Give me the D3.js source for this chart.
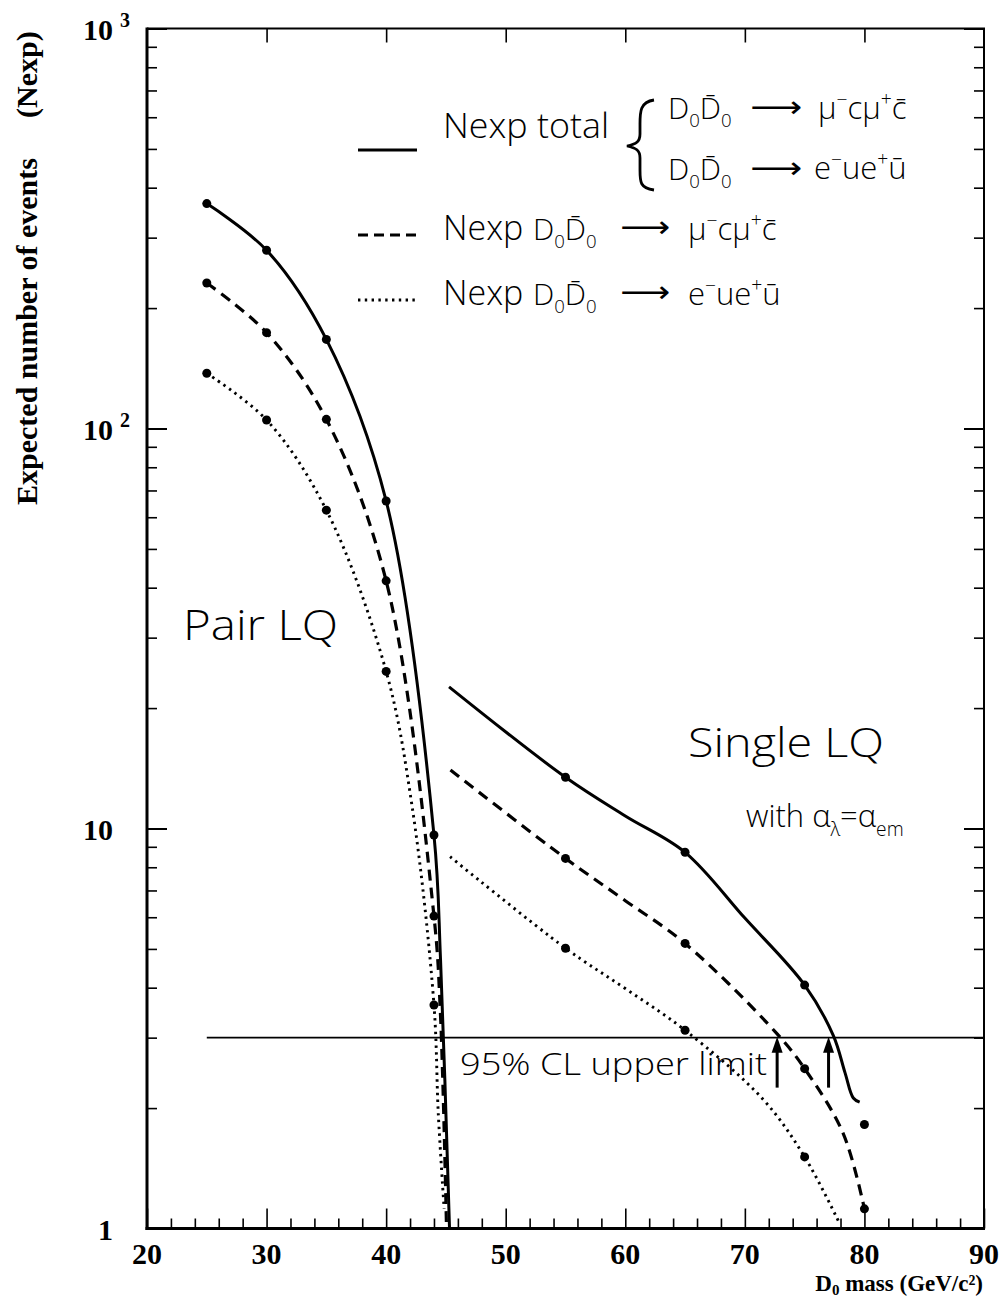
<!DOCTYPE html>
<html>
<head>
<meta charset="utf-8">
<script src="https://cdn.jsdelivr.net/npm/d3@7"></script>
<style>
  html, body { margin: 0; padding: 0; background: #fff; }
  svg { display: block; }
</style>
</head>
<body>
<svg id="chart" width="1001" height="1297"></svg>
<script>
// ---- Expected number of events vs D0 leptoquark mass (GeV/c^2) ----

// Pair-production region: computed mass points with markers
const pairMass   = [25, 30, 35, 40, 44];
const pairTotal  = [365, 279, 167, 65.9, 9.63];
const pairMu     = [231, 173.6, 105.4, 41.6, 6.04];
const pairE      = [137.4, 105, 62.5, 24.7, 3.62];
// extra knots of the drawn pair curves (steep fall near the kinematic edge)
const pairTotalKnots = [[44.55, 4.69], [45.3, 1]];
const pairMuKnots    = [[44.53, 3.5], [45.05, 1]];
const pairEKnots     = [[42.2, 11.2], [44.36, 1.94], [44.85, 1.12]];

// Single-production region
const singleMass  = [55, 65, 75];
const singleTotal = [13.43, 8.72, 4.06];
const singleMu    = [8.42, 5.16, 2.51];
const singleE     = [5.02, 3.13, 1.51];
const singleTotalKnots = [[45.26, 22.6], [60, 10.75], [70, 5.97], [77.41, 3.03],
                          [78.38, 2.45], [79.07, 2.12], [79.6, 2.07]];
const singleMuKnots    = [[45.38, 14.0], [60, 6.6], [72.68, 3.07], [78.22, 1.73]];
const singleEKnots     = [[45.35, 8.5], [60, 3.98], [71.54, 2.1], [77.92, 1.03]];
// additional computed points at 80 GeV
const extraTotal80 = [[80, 1.82]];
const extraMu80    = [[80, 1.12]];

// 95% CL upper limit on the number of events and the resulting mass limits
const clLimit = 3.0;
const clStartMass = 25;
const limitMasses = [72.7, 77.0];

// Axis ticks
const xMajor = [20, 30, 40, 50, 60, 70, 80, 90];
const xMinor = d3.range(20, 91, 2);
const yLogTicks = [1, 2, 3, 4, 5, 6, 7, 8, 9, 10, 20, 30, 40, 50, 60, 70, 80, 90, 100,
                   200, 300, 400, 500, 600, 700, 800, 900, 1000];
const yLabels = [{v: 1, base: "1", exp: ""}, {v: 10, base: "10", exp: ""},
                 {v: 100, base: "10", exp: "2"}, {v: 1000, base: "10", exp: "3"}];

// ---------------------------------------------------------------------
const SANS = "'Open Sans', 'DejaVu Sans', sans-serif";
const SERIF = "'Liberation Serif', 'DejaVu Serif', serif";

const svg = d3.select("#chart");
const frame = {left: 147, right: 984, top: 28.5, bottom: 1228.5};

const x = d3.scaleLinear().domain([20, 90]).range([frame.left, frame.right]);
const y = d3.scaleLog().domain([1, 1000]).range([frame.bottom, frame.top]);

const isDecade = v => Math.abs(Math.log10(v) - Math.round(Math.log10(v))) < 1e-9;

// ---- frame ----
const fr = svg.append("g").attr("stroke", "#000").attr("fill", "none");
fr.append("line").attr("x1", frame.left).attr("x2", frame.left)
  .attr("y1", frame.top - 1).attr("y2", frame.bottom + 1.5).attr("stroke-width", 3);
fr.append("line").attr("x1", frame.left - 1.5).attr("x2", frame.right + 1)
  .attr("y1", frame.bottom).attr("y2", frame.bottom).attr("stroke-width", 3);
fr.append("line").attr("x1", frame.left).attr("x2", frame.right + 1)
  .attr("y1", frame.top).attr("y2", frame.top).attr("stroke-width", 2);
fr.append("line").attr("x1", frame.right).attr("x2", frame.right)
  .attr("y1", frame.top).attr("y2", frame.bottom).attr("stroke-width", 2);

// ---- axes ticks (drawn with d3 axes, then sized major/minor) ----
function styleAxis(g) {
  g.select(".domain").remove();
  g.selectAll("text").remove();
  g.selectAll("line").attr("stroke", "#000").attr("stroke-width", 1.6);
}
// left (inward ticks)
svg.append("g").attr("transform", `translate(${frame.left},0)`)
  .call(d3.axisRight(y).tickValues(yLogTicks).tickSize(10))
  .call(styleAxis)
  .selectAll(".tick line").attr("x2", d => isDecade(d) ? 20 : 10)
  .attr("stroke-width", d => isDecade(d) ? 2 : 1.6);
// right (inward ticks)
svg.append("g").attr("transform", `translate(${frame.right},0)`)
  .call(d3.axisLeft(y).tickValues(yLogTicks).tickSize(10))
  .call(styleAxis)
  .selectAll(".tick line").attr("x2", d => isDecade(d) ? -20 : -10)
  .attr("stroke-width", d => isDecade(d) ? 2 : 1.6);
// bottom (inward ticks)
svg.append("g").attr("transform", `translate(0,${frame.bottom})`)
  .call(d3.axisTop(x).tickValues(xMinor).tickSize(10))
  .call(styleAxis)
  .selectAll(".tick line").attr("y2", d => d % 10 === 0 ? -20 : -10);
// top (major ticks only)
svg.append("g").attr("transform", `translate(0,${frame.top})`)
  .call(d3.axisBottom(x).tickValues(xMajor.slice(1, -1)).tickSize(14))
  .call(styleAxis);

// ---- tick labels ----
svg.append("g").selectAll("text").data(xMajor).join("text")
  .attr("x", d => x(d)).attr("y", frame.bottom + 35.5)
  .attr("text-anchor", "middle")
  .attr("font-family", SERIF).attr("font-weight", "bold").attr("font-size", 30)
  .text(d => d);

const yl = svg.append("g").selectAll("text").data(yLabels).join("text")
  .attr("font-family", SERIF).attr("font-weight", "bold").attr("font-size", 30)
  .attr("x", 113).attr("text-anchor", "end")
  .attr("y", d => y(d.v) + 11);
yl.filter(d => !d.exp).text(d => d.base);
svg.append("g").selectAll("text").data(yLabels.filter(d => d.exp)).join("text")
  .attr("font-family", SERIF).attr("font-weight", "bold").attr("font-size", 30)
  .attr("x", 83).attr("y", d => y(d.v) + 11)
  .call(t => {
    t.append("tspan").text(d => d.base);
    t.append("tspan").attr("dx", 7).attr("dy", -13).attr("font-size", 20).text(d => d.exp);
  });

// ---- axis titles ----
svg.append("text")
  .attr("transform", "translate(36.5,505) rotate(-90)")
  .attr("font-family", SERIF).attr("font-weight", "bold").attr("font-size", 30)
  .text("Expected number of events");
svg.append("text")
  .attr("transform", "translate(36.5,118) rotate(-90)")
  .attr("font-family", SERIF).attr("font-weight", "bold").attr("font-size", 30)
  .text("(Nexp)");

const xt = svg.append("text")
  .attr("x", 983).attr("y", 1291).attr("text-anchor", "end")
  .attr("font-family", SERIF).attr("font-weight", "bold").attr("font-size", 23);
xt.append("tspan").text("D");
xt.append("tspan").attr("dy", 4).attr("font-size", 15).text("0");
xt.append("tspan").attr("dy", -4).text(" mass (GeV/c\u00b2)");

// ---- curves ----
const merge = (mass, vals, knots) =>
  mass.map((m, i) => [m, vals[i]]).concat(knots).sort((a, b) => a[0] - b[0]);

const line = d3.line().x(d => x(d[0])).y(d => y(d[1])).curve(d3.curveCatmullRom.alpha(0.5));

const styles = {
  solid:  {w: 3.0, dash: null},
  dashed: {w: 3.2, dash: "11,7"},
  dotted: {w: 2.9, dash: "2.4,4.4"}
};

const series = [
  {style: "solid",  pts: merge(pairMass, pairTotal, pairTotalKnots)},
  {style: "dashed", pts: merge(pairMass, pairMu, pairMuKnots)},
  {style: "dotted", pts: merge(pairMass, pairE, pairEKnots)},
  {style: "solid",  pts: merge(singleMass, singleTotal, singleTotalKnots)},
  {style: "dashed", pts: merge(singleMass, singleMu, singleMuKnots.concat(extraMu80))},
  {style: "dotted", pts: merge(singleMass, singleE, singleEKnots)}
];

svg.append("g").attr("fill", "none").attr("stroke", "#000")
  .selectAll("path").data(series).join("path")
  .attr("d", d => line(d.pts))
  .attr("stroke-width", d => styles[d.style].w)
  .attr("stroke-dasharray", d => styles[d.style].dash);

// markers at the computed mass points
const markers = [
  ...pairMass.map((m, i) => [m, pairTotal[i]]),
  ...pairMass.map((m, i) => [m, pairMu[i]]),
  ...pairMass.map((m, i) => [m, pairE[i]]),
  ...singleMass.map((m, i) => [m, singleTotal[i]]),
  ...singleMass.map((m, i) => [m, singleMu[i]]),
  ...singleMass.map((m, i) => [m, singleE[i]]),
  ...extraTotal80, ...extraMu80
];
svg.append("g").selectAll("circle").data(markers).join("circle")
  .attr("cx", d => x(d[0])).attr("cy", d => y(d[1])).attr("r", 4.5)
  .attr("fill", "#000");

// ---- 95% CL upper limit ----
svg.append("line")
  .attr("x1", x(clStartMass)).attr("x2", frame.right)
  .attr("y1", y(clLimit)).attr("y2", y(clLimit))
  .attr("stroke", "#000").attr("stroke-width", 1.6);

const arrowG = svg.append("g").selectAll("g").data(limitMasses).join("g");
arrowG.append("line")
  .attr("x1", d => x(d)).attr("x2", d => x(d))
  .attr("y1", y(2.25)).attr("y2", y(clLimit) + 8)
  .attr("stroke", "#000").attr("stroke-width", 3);
arrowG.append("path")
  .attr("d", d => {
    const cx = x(d), ty = y(clLimit) - 1;
    return `M${cx},${ty} L${cx - 5.5},${ty + 16} L${cx + 5.5},${ty + 16} Z`;
  })
  .attr("fill", "#000");

// ---- annotations ----
function label(txt, px, py, size, len) {
  const t = svg.append("text").attr("x", px).attr("y", py)
    .attr("font-family", SANS).attr("font-weight", 300).attr("font-size", size)
    .text(txt);
  if (len) t.attr("textLength", len).attr("lengthAdjust", "spacingAndGlyphs");
  return t;
}
label("Pair LQ", 183, 640, 42, 155);
label("Single LQ", 688, 757, 40, 196);
label("95% CL upper limit", 460, 1075, 32, 307);

// rich text helper: runs of [string, "sub"|"sup"|""]
function rich(px, py, size, runs) {
  const t = svg.append("text").attr("x", px).attr("y", py)
    .attr("font-family", SANS).attr("font-weight", 300).attr("font-size", size);
  let shift = 0;
  runs.forEach(([s, kind]) => {
    const target = kind === "sub" ? size * 0.28 : kind === "sup" ? -size * 0.42 : 0;
    t.append("tspan").attr("dy", target - shift)
      .attr("font-size", kind ? size * 0.62 : size).text(s);
    shift = target;
  });
  return t;
}

rich(746, 827, 31, [["with α", ""], ["λ", "sub"], ["=α", ""], ["em", "sub"]]);

// ---- legend ----
const legendRows = [
  {style: "solid",  ly: 150},
  {style: "dashed", ly: 235},
  {style: "dotted", ly: 300}
];
svg.append("g").attr("stroke", "#000").selectAll("line").data(legendRows).join("line")
  .attr("x1", 358).attr("x2", 417).attr("y1", d => d.ly).attr("y2", d => d.ly)
  .attr("stroke-width", d => styles[d.style].w)
  .attr("stroke-dasharray", d => d.style === "dashed" ? "10,6" : styles[d.style].dash);

label("Nexp total", 443, 138, 34, 166);

const DD = [["D", ""], ["0", "sub"], ["D\u0304", ""], ["0", "sub"]];
const muChan = [["\u03bc", ""], ["\u2212", "sup"], ["c\u03bc", ""], ["+", "sup"], ["c\u0304", ""]];
const eChan = [["e", ""], ["\u2212", "sup"], ["ue", ""], ["+", "sup"], ["u\u0304", ""]];

function arrowText(px, py, len) {
  svg.append("text").attr("x", px).attr("y", py)
    .attr("font-family", "'DejaVu Sans', sans-serif").attr("font-size", 30)
    .attr("textLength", len).attr("lengthAdjust", "spacingAndGlyphs")
    .text("\u27f6");
}

// bracketed pair of channels for the total
svg.append("path")
  .attr("d", "M654,100 C640,102 640,112 640,124 L640,134 C640,142 636,144 627,146 C636,148 640,150 640,158 L640,170 C640,182 640,188 654,190")
  .attr("fill", "none").attr("stroke", "#000").attr("stroke-width", 2.8);

rich(668, 119, 30, DD);
arrowText(750, 117, 52);
rich(818, 119, 31, muChan);

rich(668, 180, 30, DD);
arrowText(750, 178, 52);
rich(814, 179, 31, eChan);

label("Nexp", 443, 240, 34);
rich(533, 240, 30, DD);
arrowText(620, 237, 50);
rich(688, 240, 31, muChan);

label("Nexp", 443, 305, 34);
rich(533, 305, 30, DD);
arrowText(620, 302, 50);
rich(688, 305, 31, eChan);
</script>
</body>
</html>
